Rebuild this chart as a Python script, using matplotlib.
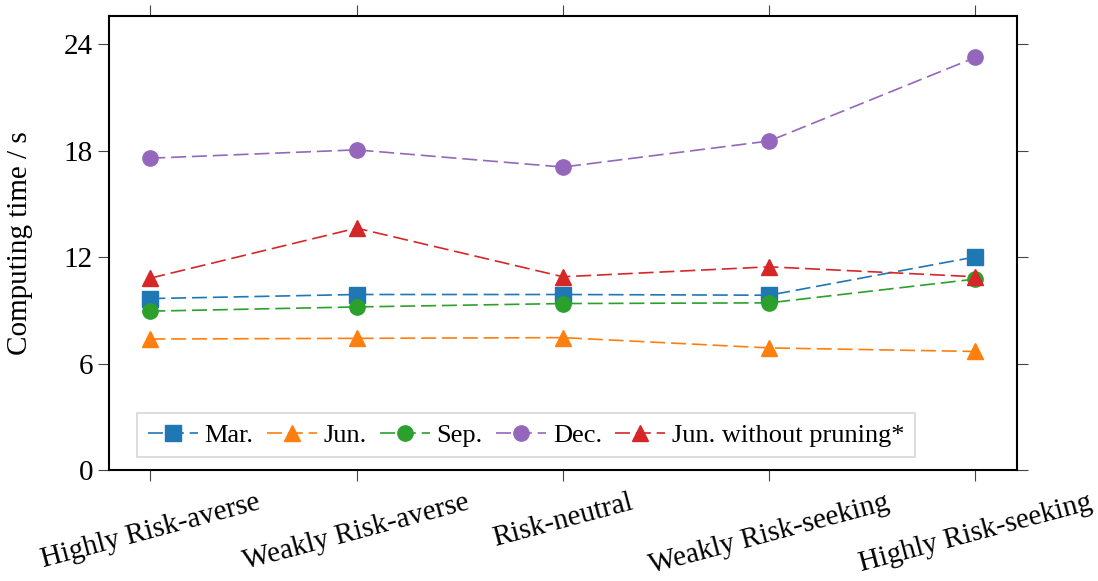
import matplotlib.pyplot as plt
import numpy as np

plt.rcParams['font.family'] = ['Liberation Serif', 'DejaVu Serif']
plt.rcParams['mathtext.fontset'] = 'stix'

categories = ['Highly Risk-averse', 'Weakly Risk-averse', 'Risk-neutral',
              'Weakly Risk-seeking', 'Highly Risk-seeking']

# computing time in seconds per risk preference
mar = [9.66, 9.89, 9.89, 9.85, 12.01]
jun = [7.38, 7.42, 7.46, 6.88, 6.68]
sep = [8.95, 9.19, 9.38, 9.42, 10.76]
dec = [17.57, 18.04, 17.07, 18.54, 23.25]
jun_nopruning = [10.81, 13.63, 10.89, 11.45, 10.89]

series = [
    ('Mar.', mar, 's', '#1f77b4'),
    ('Jun.', jun, '^', '#ff7f0e'),
    ('Sep.', sep, 'o', '#2ca02c'),
    ('Dec.', dec, 'o', '#9467bd'),
    ('Jun. without pruning*', jun_nopruning, '^', '#d62728'),
]

fig = plt.figure(figsize=(10.98, 5.81), dpi=100)
ax = fig.add_axes([0.0993, 0.191, 0.8267, 0.782])

x = np.arange(len(categories))
for name, vals, mk, col in series:
    ax.plot(x, vals, color=col, marker=mk, markersize=11, lw=1.2,
            dashes=(9, 3.5), label=name)

ax.set_xlim(-0.2, 4.2)
ax.set_ylim(0, 25.6)
ax.set_yticks([0, 6, 12, 18, 24])
ax.set_xticks(x)
ax.set_xticklabels(categories, rotation=15, ha='center')
ax.tick_params(axis='both', direction='out', length=8, width=0.8,
               color='#444444', labelsize=21, top=True, right=True)
ax.tick_params(axis='x', pad=6)
for s in ax.spines.values():
    s.set_linewidth(1.5)

ax.set_ylabel('Computing time / s', fontsize=21)
ax.yaxis.set_label_coords(-0.084, 0.5)

leg = ax.legend(loc='lower left', ncol=5, fontsize=19, frameon=True,
                fancybox=False, edgecolor='#cccccc', handlelength=1.9,
                handletextpad=0.25, columnspacing=0.5, borderpad=0.4,
                borderaxespad=0, bbox_to_anchor=(0.031, 0.028))
leg.get_frame().set_linewidth(1.2)

fig.savefig('out.png', dpi=100)
